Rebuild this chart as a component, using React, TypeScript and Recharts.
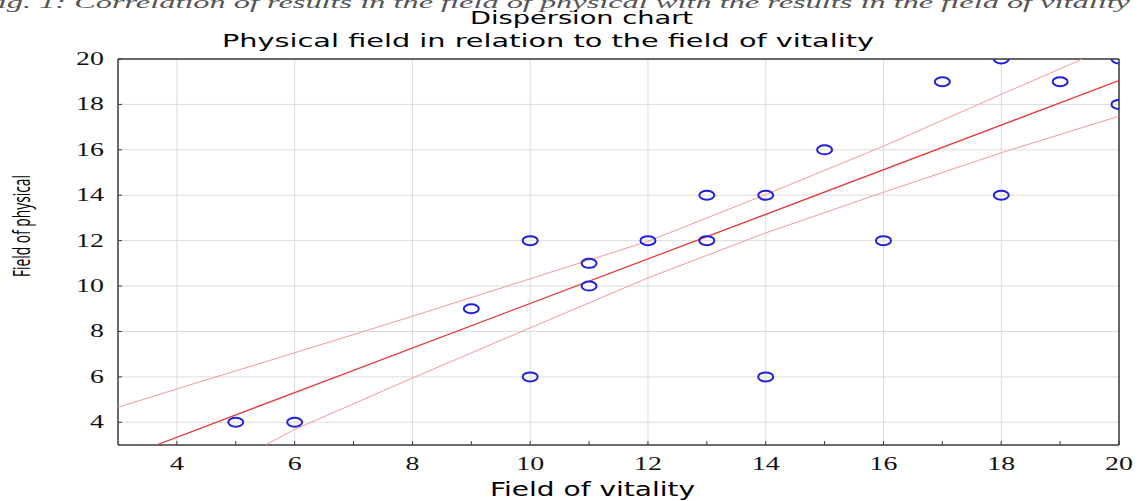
import { CartesianGrid, Scatter, ScatterChart, XAxis, YAxis } from "recharts";

const vitality = [5, 6, 9, 10, 10, 11, 11, 12, 13, 13, 14, 14, 15, 16, 17, 18, 18, 19, 20, 20];
const physical = [4, 4, 9, 12, 6, 11, 10, 12, 14, 12, 14, 6, 16, 12, 19, 20, 14, 19, 20, 18];

// fitted line and 95% band, read at a few x positions
const fitX = [3.65, 20];
const fitY = [3, 19.05];
const upperX = [3, 4, 6, 8, 10, 12, 14, 16, 18, 19.38];
const upperY = [4.66, 5.47, 7.06, 8.67, 10.32, 11.97, 14.03, 16.16, 18.44, 20];
const lowerX = [5.5, 6, 8, 10, 12, 14, 16, 18, 20];
const lowerY = [3, 3.68, 5.95, 8.16, 10.36, 12.34, 14.13, 15.87, 17.48];

const axisTicks = [4, 5, 6, 7, 8, 9, 10, 11, 12, 13, 14, 15, 16, 17, 18, 19, 20];
const gridValues = [4, 6, 8, 10, 12, 14, 16, 18, 20];

const zip = (xs: number[], ys: number[]) => xs.map((x, i) => ({ x, y: ys[i] }));
const points = zip(vitality, physical);
const fit = zip(fitX, fitY);
const upper = zip(upperX, upperY);
const lower = zip(lowerX, lowerY);

const AXIS = "#3a3a3a";
const tickFont = { fontFamily: "'Liberation Serif', serif", fontSize: 18, fill: "#111" };

function XTick(p: any) {
  const v = p.payload.value;
  if (v % 2) return <g />;
  return (
    <text transform={`translate(${p.x},${p.y}) scale(1.55,1)`} textAnchor="middle" {...tickFont}>
      {v}
    </text>
  );
}

function YTick(p: any) {
  const v = p.payload.value;
  if (v % 2) return <g />;
  return (
    <text transform={`translate(${p.x},${p.y + 6}) scale(1.55,1)`} textAnchor="end" {...tickFont}>
      {v}
    </text>
  );
}

const Ring = (p: any) => (
  <ellipse cx={p.cx} cy={p.cy} rx={7.5} ry={4.5} fill="none" stroke="#1f1fe0" strokeWidth={2} />
);
const NoDot = () => <g />;

export default function App() {
  const sans = "'DejaVu Sans', sans-serif";
  return (
    <div style={{ position: "absolute", left: 0, top: 0, width: 1141, height: 501, background: "#fff" }}>
      <ScatterChart width={1141} height={501} margin={{ top: 29, right: 0, bottom: 0, left: 0 }}>
        <CartesianGrid stroke="#dcdcdc" verticalValues={gridValues} horizontalValues={gridValues} />
        <XAxis
          type="number"
          dataKey="x"
          domain={[3, 20]}
          ticks={axisTicks}
          allowDataOverflow
          height={56}
          tick={<XTick />}
          tickSize={-4}
          tickMargin={29}
          stroke={AXIS}
          axisLine={{ stroke: AXIS, strokeWidth: 1.5 }}
        />
        <XAxis
          xAxisId="top"
          orientation="top"
          type="number"
          domain={[3, 20]}
          ticks={axisTicks}
          allowDataOverflow
          height={30}
          tick={false}
          tickSize={-4}
          stroke={AXIS}
          axisLine={{ stroke: AXIS, strokeWidth: 1.5 }}
        />
        <YAxis
          type="number"
          dataKey="y"
          domain={[3, 20]}
          ticks={axisTicks}
          allowDataOverflow
          width={118}
          tick={<YTick />}
          tickSize={-4}
          tickMargin={18}
          stroke={AXIS}
          axisLine={{ stroke: AXIS, strokeWidth: 1.5 }}
        />
        <YAxis
          yAxisId="right"
          orientation="right"
          type="number"
          domain={[3, 20]}
          ticks={axisTicks}
          allowDataOverflow
          width={22}
          tick={false}
          tickSize={-4}
          stroke={AXIS}
          axisLine={{ stroke: AXIS, strokeWidth: 1.5 }}
        />
        <Scatter data={upper} line={{ stroke: "#f29a9a", strokeWidth: 1 }} shape={NoDot} isAnimationActive={false} />
        <Scatter data={lower} line={{ stroke: "#f29a9a", strokeWidth: 1 }} shape={NoDot} isAnimationActive={false} />
        <Scatter data={fit} line={{ stroke: "#e53a3a", strokeWidth: 1.3 }} shape={NoDot} isAnimationActive={false} />
        <Scatter data={points} shape={Ring} isAnimationActive={false} />
      </ScatterChart>
      <svg width={1141} height={501} style={{ position: "absolute", left: 0, top: 0, pointerEvents: "none" }}>
        <text
          x={-22}
          y={8}
          textLength={1152}
          lengthAdjust="spacingAndGlyphs"
          fontFamily="'Liberation Serif', serif"
          fontStyle="italic"
          fontSize={17}
          fill="#555"
        >
          Fig. 1: Correlation of results in the field of physical with the results in the field of vitality
        </text>
        <text x={470} y={24} textLength={223} lengthAdjust="spacingAndGlyphs" fontFamily={sans} fontSize={17} fill="#000">
          Dispersion chart
        </text>
        <text x={222} y={47} textLength={652} lengthAdjust="spacingAndGlyphs" fontFamily={sans} fontSize={17} fill="#000">
          Physical field in relation to the field of vitality
        </text>
        <text x={490} y={496} textLength={205} lengthAdjust="spacingAndGlyphs" fontFamily={sans} fontSize={20} fill="#000">
          Field of vitality
        </text>
        <text
          transform="translate(30,226) rotate(-90)"
          textAnchor="middle"
          textLength={102}
          lengthAdjust="spacingAndGlyphs"
          fontFamily="'Open Sans', sans-serif"
          fontSize={23}
          fill="#000"
        >
          Field of physical
        </text>
      </svg>
    </div>
  );
}
